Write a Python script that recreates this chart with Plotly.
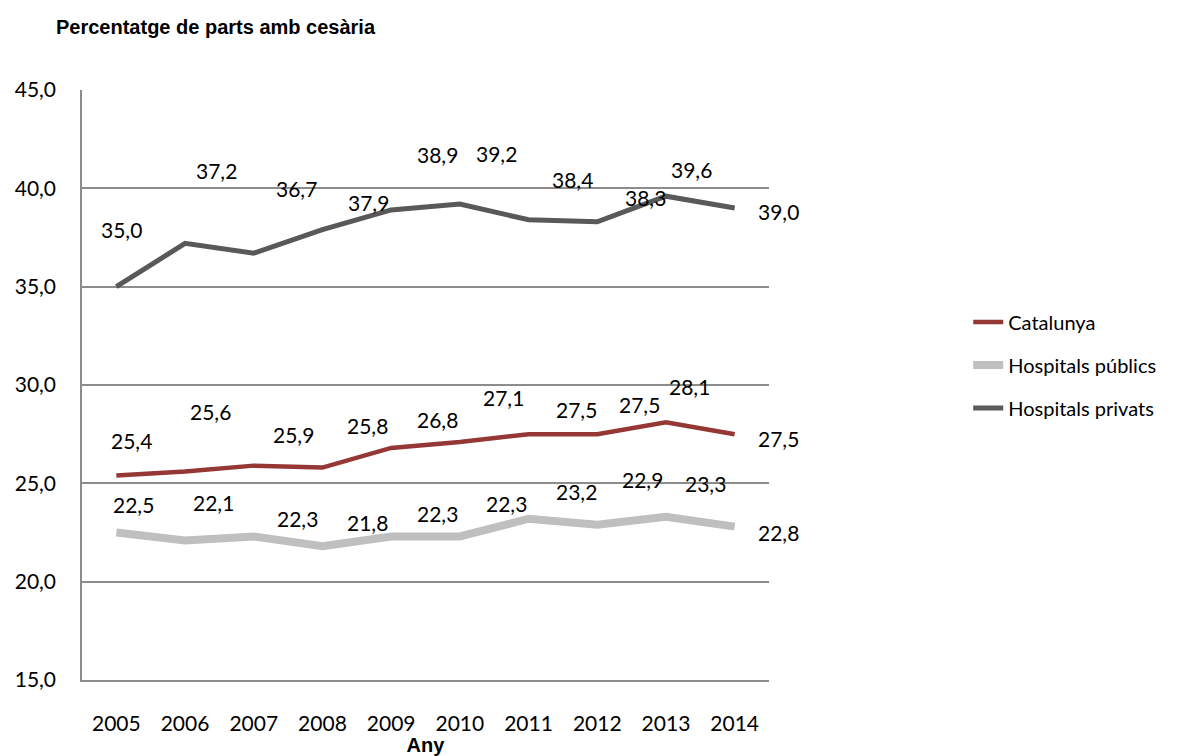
import plotly.graph_objects as go

years = ["2005", "2006", "2007", "2008", "2009", "2010", "2011", "2012", "2013", "2014"]
catalunya = [25.4, 25.6, 25.9, 25.8, 26.8, 27.1, 27.5, 27.5, 28.1, 27.5]
publics = [22.5, 22.1, 22.3, 21.8, 22.3, 22.3, 23.2, 22.9, 23.3, 22.8]
privats = [35.0, 37.2, 36.7, 37.9, 38.9, 39.2, 38.4, 38.3, 39.6, 39.0]

series_names = ["Catalunya", "Hospitals públics", "Hospitals privats"]
series_colors = ["#953735", "#BFBFBF", "#595959"]
series_widths = [4.5, 8, 5]

# label pixel offsets (dx, dy up)
off_cat = [(15, 35), (25, 60), (40, 31), (45, 42), (46, 28), (44, 45), (48, 25), (42, 30), (24, 36), (44, -4)]
off_pub = [(17, 28), (28, 38), (44, 18), (45, 24), (46, 23), (47, 33), (48, 27), (45, 45), (40, 33), (44, -6)]
off_pri = [(5, 57), (31, 73), (43, 65), (46, 27), (46, 55), (37, 51), (44, 40), (48, 24), (26, 27), (44, -3)]

FONT = "Lato"
fig = go.Figure()
all_series = [catalunya, publics, privats]
for name, vals, col, w in zip(series_names, all_series, series_colors, series_widths):
    fig.add_trace(go.Scatter(x=years, y=vals, mode="lines", name=name, legendgroup=name,
                             line=dict(color=col, width=w)))

annotations = []
for vals, offs in zip(all_series, [off_cat, off_pub, off_pri]):
    for i, (v, (dx, dy)) in enumerate(zip(vals, offs)):
        annotations.append(dict(x=i, y=v, xref="x", yref="y", text=f"{v:.1f}".replace(".", ","),
                                showarrow=False, xshift=dx, yshift=dy,
                                font=dict(family=FONT, size=21, color="#000000")))

annotations.append(dict(x=-0.041, y=1.107, xref="paper", yref="paper", xanchor="left", yanchor="middle",
                        text="<b>Percentatge de parts amb cesària</b>", showarrow=False,
                        font=dict(family="Liberation Sans", size=20, color="#000000")))

fig.update_layout(
    width=1181, height=748,
    margin=dict(l=74, r=420, t=82, b=76),
    paper_bgcolor="white", plot_bgcolor="white",
    separators=",.",
    font=dict(family=FONT, size=21, color="#000000"),
    showlegend=True,
    legend=dict(x=1.29, y=0.534, xanchor="left", yanchor="middle",
                font=dict(family=FONT, size=20, color="#000000"),
                bgcolor="rgba(0,0,0,0)", tracegroupgap=14),
    annotations=annotations,
)
fig.update_xaxes(type="category", range=[-0.5, 9.5], showgrid=False, showline=True, automargin=False,
                 linecolor="#8c8c8c", linewidth=1.5, ticks="outside", ticklen=0,
                 ticklabelstandoff=24, tickfont=dict(family=FONT, size=21),
                 title=dict(text="<b>Any</b>", standoff=6,
                            font=dict(family="Liberation Sans", size=20, color="#000000")))
fig.update_yaxes(range=[15, 45], tickvals=[15, 20, 25, 30, 35, 40, 45], tickformat=".1f", automargin=False,
                 showgrid=True, gridcolor="#8c8c8c", gridwidth=1.5, showline=True,
                 linecolor="#8c8c8c", linewidth=1.5, zeroline=False, ticks="outside", ticklen=0,
                 ticklabelstandoff=20, tickfont=dict(family=FONT, size=21))

fig.write_html("out.html")
